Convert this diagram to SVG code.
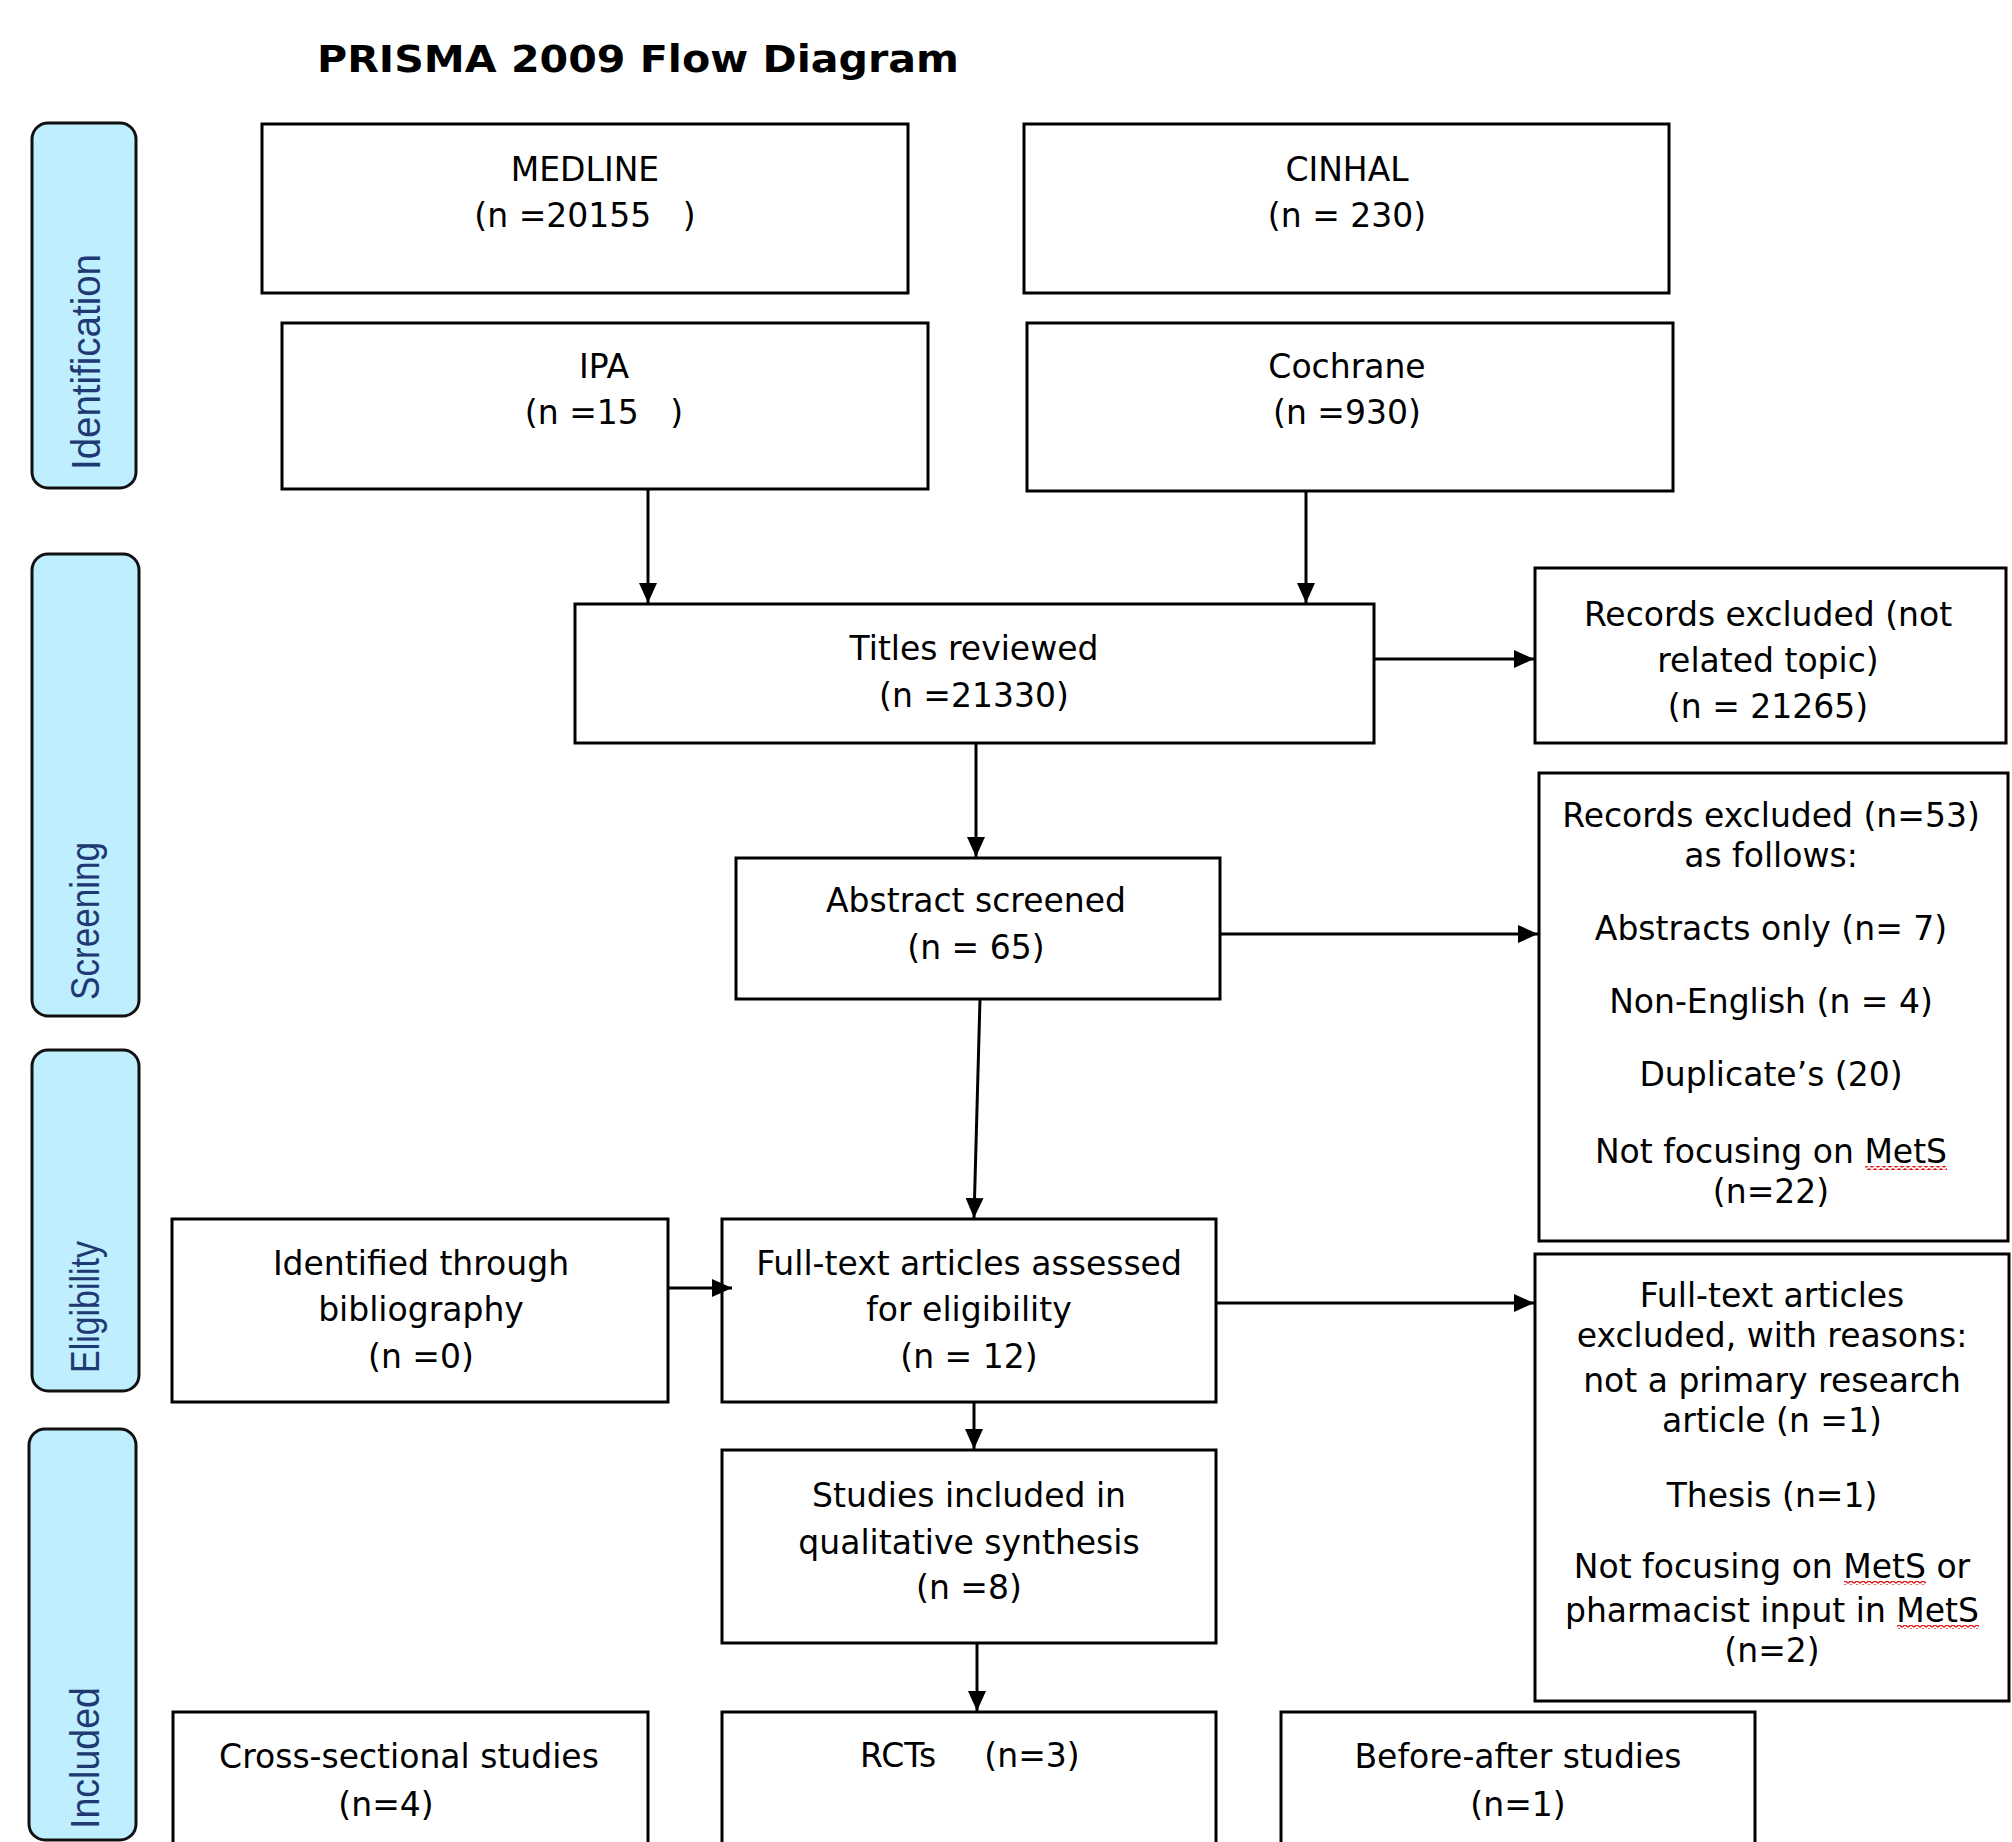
<svg xmlns="http://www.w3.org/2000/svg" width="2012" height="1842" viewBox="0 0 2012 1842">
<style>
.box{fill:#fff;stroke:#000;stroke-width:3}
.pill{fill:#BFEEFF;stroke:#111;stroke-width:3}
.t{font-family:"DejaVu Sans",sans-serif;font-size:33px;fill:#000;text-anchor:middle}
.pt{font-family:"Liberation Sans",Arial,sans-serif;font-size:41px;fill:#1F3A73}
.title{font-family:"DejaVu Sans",sans-serif;font-weight:bold;font-size:37px;fill:#000}
.conn line{stroke:#000;stroke-width:3;marker-end:url(#ah)}
.sq{fill:url(#squig)}
</style>
<defs>
<marker id="ah" markerUnits="userSpaceOnUse" markerWidth="20" markerHeight="18" refX="20" refY="9" orient="auto"><path d="M0,0 L20,9 L0,18 z" fill="#000"/></marker>
<pattern id="squig" patternUnits="userSpaceOnUse" x="0" y="0" width="6" height="4"><path d="M0,3.2 L3,0.8 L6,3.2" fill="none" stroke="#E01010" stroke-width="1.3"/></pattern>
</defs>
<rect width="2012" height="1842" fill="#fff"/>
<text class="title" x="317" y="72" textLength="642" lengthAdjust="spacingAndGlyphs">PRISMA 2009 Flow Diagram</text>

<g id="phase-identification"><rect class="pill" x="32" y="123" width="104" height="365" rx="16"/><text class="pt" transform="translate(100,470) rotate(-90)" textLength="216" lengthAdjust="spacingAndGlyphs">Identification</text></g>
<g id="phase-screening"><rect class="pill" x="32" y="554" width="107" height="462" rx="16"/><text class="pt" transform="translate(99,1000) rotate(-90)" textLength="158" lengthAdjust="spacingAndGlyphs">Screening</text></g>
<g id="phase-eligibility"><rect class="pill" x="32" y="1050" width="107" height="341" rx="16"/><text class="pt" transform="translate(99,1373) rotate(-90)" textLength="132" lengthAdjust="spacingAndGlyphs">Eligibility</text></g>
<g id="phase-included"><rect class="pill" x="29" y="1429" width="107" height="411" rx="16"/><text class="pt" transform="translate(99,1829) rotate(-90)" textLength="142" lengthAdjust="spacingAndGlyphs">Included</text></g>

<g id="medline"><rect class="box" x="262" y="124" width="646" height="169"/><text class="t" x="585" y="181">MEDLINE</text><text class="t" x="585" y="227">(n =20155&#160;&#160;&#160;)</text></g>
<g id="cinhal"><rect class="box" x="1024" y="124" width="645" height="169"/><text class="t" x="1347" y="181">CINHAL</text><text class="t" x="1347" y="227">(n = 230)</text></g>
<g id="ipa"><rect class="box" x="282" y="323" width="646" height="166"/><text class="t" x="604" y="378">IPA</text><text class="t" x="604" y="424">(n =15&#160;&#160;&#160;)</text></g>
<g id="cochrane"><rect class="box" x="1027" y="323" width="646" height="168"/><text class="t" x="1347" y="378">Cochrane</text><text class="t" x="1347" y="424">(n =930)</text></g>
<g id="titles"><rect class="box" x="575" y="604" width="799" height="139"/><text class="t" x="974" y="660">Titles reviewed</text><text class="t" x="974" y="707">(n =21330)</text></g>
<g id="excluded-topic"><rect class="box" x="1535" y="568" width="471" height="175"/><text class="t" x="1768" y="626">Records excluded (not</text><text class="t" x="1768" y="672">related topic)</text><text class="t" x="1768" y="718">(n = 21265)</text></g>
<g id="abstract"><rect class="box" x="736" y="858" width="484" height="141"/><text class="t" x="976" y="912">Abstract screened</text><text class="t" x="976" y="959">(n = 65)</text></g>
<g id="excluded-53"><rect class="box" x="1539" y="773" width="469" height="468"/>
<text class="t" x="1771" y="827">Records excluded (n=53)</text>
<text class="t" x="1771" y="867">as follows:</text>
<text class="t" x="1771" y="940">Abstracts only (n= 7)</text>
<text class="t" x="1771" y="1013">Non-English (n = 4)</text>
<text class="t" x="1771" y="1086">Duplicate’s (20)</text>
<text class="t" x="1771" y="1163">Not focusing on MetS</text>
<rect class="sq" x="1865" y="1166" width="82" height="4"/>
<text class="t" x="1771" y="1203">(n=22)</text></g>
<g id="bibliography"><rect class="box" x="172" y="1219" width="496" height="183"/><text class="t" x="421" y="1275">Identified through</text><text class="t" x="421" y="1321">bibliography</text><text class="t" x="421" y="1368">(n =0)</text></g>
<g id="fulltext"><rect class="box" x="722" y="1219" width="494" height="183"/><text class="t" x="969" y="1275">Full-text articles assessed</text><text class="t" x="969" y="1321">for eligibility</text><text class="t" x="969" y="1368">(n = 12)</text></g>
<g id="fulltext-excluded"><rect class="box" x="1535" y="1254" width="474" height="447"/>
<text class="t" x="1772" y="1307">Full-text articles</text>
<text class="t" x="1772" y="1347">excluded, with reasons:</text>
<text class="t" x="1772" y="1392">not a primary research</text>
<text class="t" x="1772" y="1432">article (n =1)</text>
<text class="t" x="1772" y="1507">Thesis (n=1)</text>
<text class="t" x="1772" y="1578">Not focusing on MetS or</text>
<rect class="sq" x="1844" y="1581" width="82" height="4"/>
<text class="t" x="1772" y="1622">pharmacist input in MetS</text>
<rect class="sq" x="1897" y="1625" width="82" height="4"/>
<text class="t" x="1772" y="1662">(n=2)</text></g>
<g id="studies"><rect class="box" x="722" y="1450" width="494" height="193"/><text class="t" x="969" y="1507">Studies included in</text><text class="t" x="969" y="1554">qualitative synthesis</text><text class="t" x="969" y="1599">(n =8)</text></g>
<g id="cross-sectional"><rect class="box" x="173" y="1712" width="475" height="200"/><text class="t" x="409" y="1768">Cross-sectional studies</text><text class="t" x="386" y="1816">(n=4)</text></g>
<g id="rcts"><rect class="box" x="722" y="1712" width="494" height="200"/><text class="t" x="898" y="1767">RCTs</text><text class="t" x="1032" y="1767">(n=3)</text></g>
<g id="before-after"><rect class="box" x="1281" y="1712" width="474" height="200"/><text class="t" x="1518" y="1768">Before-after studies</text><text class="t" x="1518" y="1816">(n=1)</text></g>

<g id="connectors" class="conn">
<line x1="648" y1="489" x2="648" y2="603"/>
<line x1="1306" y1="491" x2="1306" y2="603"/>
<line x1="1374" y1="659" x2="1534" y2="659"/>
<line x1="976" y1="743" x2="976" y2="857"/>
<line x1="1220" y1="934" x2="1538" y2="934"/>
<line x1="980" y1="999" x2="974" y2="1218"/>
<line x1="668" y1="1288" x2="732" y2="1288"/>
<line x1="1216" y1="1303" x2="1534" y2="1303"/>
<line x1="974" y1="1402" x2="974" y2="1449"/>
<line x1="977" y1="1643" x2="977" y2="1711"/>
</g>
</svg>
